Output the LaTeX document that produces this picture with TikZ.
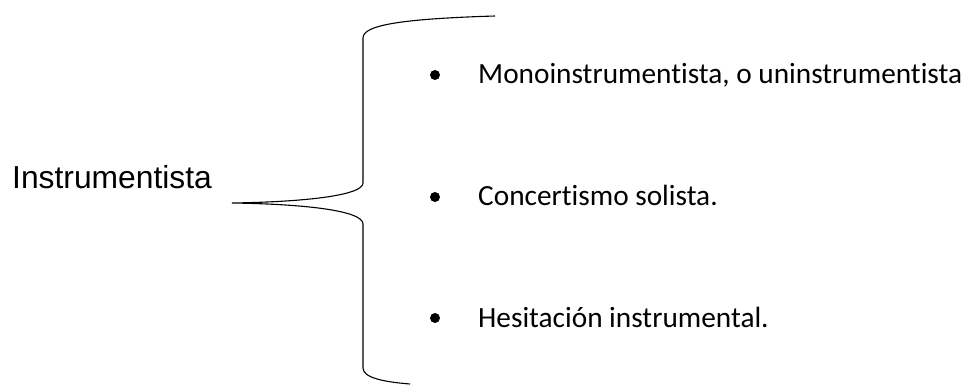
\documentclass[tikz,border=0pt]{standalone}
\usepackage{fontspec}
\setmainfont{Carlito}[Ligatures=NoCommon]
\newfontfamily\arialfont{Liberation Sans}
\begin{document}
\begin{tikzpicture}[x=1pt,y=-1pt,
  itemtext/.style={anchor=base west,inner sep=0pt,font=\fontsize{29.3}{34}\selectfont},
  headtext/.style={anchor=base west,inner sep=0pt,font=\arialfont\fontsize{31.8}{37}\selectfont},
  bulletdot/.style={circle,fill=black,inner sep=0pt,minimum size=10pt},
  bracestyle/.style={line width=1.1pt,draw=black}]
\useasboundingbox (0,0) rectangle (966,385);
\node[headtext] (head) at (12,188.5) {Instrumentista};
\coordinate (top) at (495,16);
\coordinate (tip) at (232,203);
\coordinate (bot) at (410,384);
\draw[bracestyle] (top) .. controls (395,19) and (363,26) .. (363,38)
  -- (363,183) .. controls (363,196) and (300,202) .. (tip)
  .. controls (300,204) and (363,210) .. (363,224)
  -- (363,368) .. controls (363,378) and (385,382) .. (bot);
\node[bulletdot] (b1) at (435,75) {};
\node[bulletdot] (b2) at (435,197) {};
\node[bulletdot] (b3) at (435,318) {};
\node[itemtext] (t1) at (478,84) {Monoinstrumentista, o uninstrumentista};
\node[itemtext] (t2) at (478,205) {Concertismo solista.};
\node[itemtext] (t3) at (478,327) {Hesitación instrumental.};
\end{tikzpicture}
\end{document}
